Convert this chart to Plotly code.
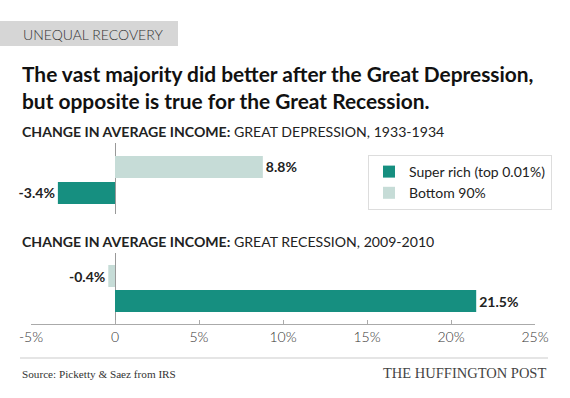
import plotly.graph_objects as go

# ---- data ----
series_names = ["Super rich (top 0.01%)", "Bottom 90%"]
depression_values = [-3.4, 8.8]   # super rich, bottom 90%
recession_values = [21.5, -0.4]   # super rich, bottom 90%
bar_rows = [0, 1]                 # super rich lower row, bottom 90% upper row
tick_values = [-5, 0, 5, 10, 15, 20, 25]
tick_labels = ["-5%", "0", "5%", "10%", "15%", "20%", "25%"]

TEAL = "#168f80"
LIGHT = "#c6dcd7"
colors = [TEAL, LIGHT]

W, H = 570, 398
L, R, T, B = 31, 35, 143, 74
PW, PH = W - L - R, H - T - B


def xp(px):
    return (px - L) / PW


def yp(py):
    return (H - B - py) / PH


def fmt(v):
    return f"{v}%"


fig = go.Figure()
label_font = dict(family="Lato", size=14, color="#222", weight="bold")

# top panel (Great Depression) -> xaxis2/yaxis2; bottom panel -> xaxis/yaxis
for i, name in enumerate(series_names):
    fig.add_trace(go.Bar(
        x=[depression_values[i]], y=[bar_rows[i]], orientation="h",
        marker=dict(color=colors[i], line=dict(width=0)), width=0.846,
        text=[fmt(depression_values[i])], textposition="outside",
        textfont=label_font, cliponaxis=False,
        name=name, legendgroup=name, showlegend=True,
        xaxis="x2", yaxis="y2", hoverinfo="skip"))
for i, name in enumerate(series_names):
    fig.add_trace(go.Bar(
        x=[recession_values[i]], y=[bar_rows[i]], orientation="h",
        marker=dict(color=colors[i], line=dict(width=0)), width=0.88,
        text=[fmt(recession_values[i])], textposition="outside",
        textfont=label_font, cliponaxis=False,
        name=name, legendgroup=name, showlegend=False,
        xaxis="x", yaxis="y", hoverinfo="skip"))

ax_common = dict(range=[-5, 25], showgrid=False, fixedrange=True)
fig.update_layout(
    width=W, height=H,
    margin=dict(l=L, r=R, t=T, b=B),
    paper_bgcolor="white", plot_bgcolor="white",
    barmode="overlay",
    font=dict(family="Lato", color="#333"),
    xaxis=dict(**ax_common, anchor="y", showline=True, linecolor="#aaa", linewidth=1,
               ticks="inside", ticklen=4, tickcolor="#aaa", tickwidth=1,
               tickvals=tick_values, ticktext=tick_labels,
               tickfont=dict(family="Lato", size=14, color="#333", weight=300),
               zeroline=True, zerolinecolor="#999", zerolinewidth=1),
    xaxis2=dict(**ax_common, anchor="y2", showline=False, ticks="", showticklabels=False,
                zeroline=True, zerolinecolor="#999", zerolinewidth=1),
    yaxis=dict(domain=[0, yp(253)], range=[-0.92, 1.92], visible=False, fixedrange=True),
    yaxis2=dict(domain=[yp(214), 1], range=[-0.808, 1.923], visible=False, fixedrange=True),
    legend=dict(x=xp(368), y=yp(155), xanchor="left", yanchor="top",
                bordercolor="#ddd", borderwidth=1, bgcolor="white",
                font=dict(family="Lato", size=14, color="#222"),
                traceorder="normal", tracegroupgap=0),
    showlegend=True,
)

shapes = [
    dict(type="rect", xref="paper", yref="paper", x0=xp(-2), x1=xp(178), y0=yp(46), y1=yp(21),
         fillcolor="#d6d6d6", line=dict(width=0), layer="below"),
    dict(type="line", xref="paper", yref="paper", x0=xp(20), x1=xp(548), y0=yp(358), y1=yp(358),
         line=dict(color="#ddd", width=1.5)),
]
fig.update_layout(shapes=shapes)

ann = [
    dict(text="UNEQUAL RECOVERY", x=xp(21), y=yp(34), xanchor="left", yanchor="middle",
         font=dict(family="Lato", size=14, color="#333", weight=300)),
    dict(text="<b>The vast majority did better after the Great Depression,<br>but opposite is true for the Great Recession.</b>",
         x=xp(20), y=yp(87), xanchor="left", yanchor="middle", align="left",
         font=dict(family="Lato", size=20.9, color="#111")),
    dict(text="<b>CHANGE IN AVERAGE INCOME:</b> GREAT DEPRESSION, 1933-1934",
         x=xp(20), y=yp(131.5), xanchor="left", yanchor="middle",
         font=dict(family="Lato", size=14.1, color="#222")),
    dict(text="<b>CHANGE IN AVERAGE INCOME:</b> GREAT RECESSION, 2009-2010",
         x=xp(20), y=yp(241), xanchor="left", yanchor="middle",
         font=dict(family="Lato", size=14.1, color="#222")),
    dict(text="Source: Picketty &amp; Saez from IRS", x=xp(20), y=yp(374), xanchor="left", yanchor="middle",
         font=dict(family="Liberation Serif", size=11.2, color="#333")),
    dict(text="THE HUFFINGTON POST", x=xp(548), y=yp(373), xanchor="right", yanchor="middle",
         font=dict(family="Liberation Serif", size=14.5, color="#444")),
]
for a in ann:
    a.update(xref="paper", yref="paper", showarrow=False)
fig.update_layout(annotations=ann)

fig.write_html("out.html", config={"displayModeBar": False},
               post_script="document.body.style.margin='0';document.body.style.padding='0';")
